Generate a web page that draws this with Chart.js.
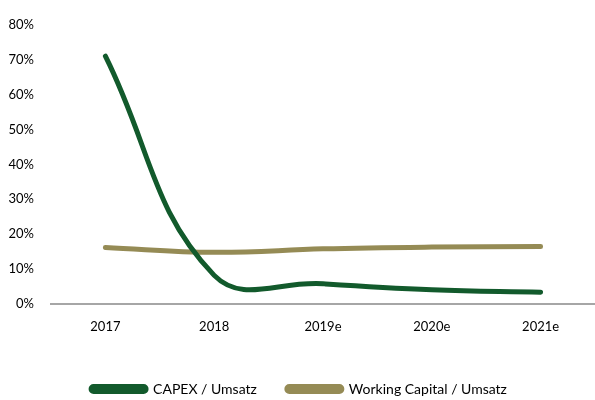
<!DOCTYPE html>
<html>
<head>
<meta charset="utf-8">
<script src="https://cdn.jsdelivr.net/npm/chart.js@4.4.0/dist/chart.umd.min.js"></script>
<style>
  html, body { margin: 0; padding: 0; background: #fff; }
  #wrap { width: 595px; height: 400px; position: relative; }
</style>
</head>
<body>
<div id="wrap"><canvas id="myChart"></canvas></div>
<script>
// data
var years = ['2017', '2018', '2019e', '2020e', '2021e'];
var capex = [71.0, 8.2, 5.8, 4.1, 3.4];
var workingCapital = [16.2, 14.8, 15.8, 16.3, 16.5];
var yTicks = [0, 10, 20, 30, 40, 50, 60, 70, 80];

var green = '#125a2c';
var olive = '#958b55';

var data = {
  labels: years,
  datasets: [{
    label: 'CAPEX / Umsatz',
    data: capex,
    borderColor: green,
    backgroundColor: green,
    borderWidth: 5,
    borderCapStyle: 'round',
    tension: 0.42,
    pointRadius: 0
  }, {
    label: 'Working Capital / Umsatz',
    data: workingCapital,
    borderColor: olive,
    backgroundColor: olive,
    borderWidth: 5,
    borderCapStyle: 'round',
    tension: 0.4,
    pointRadius: 0
  }]
};

const config = {
  type: 'line',
  data: data,
  options: {
    responsive: true,
    maintainAspectRatio: false,
    animation: false,
    layout: { padding: { top: 9, right: -3, bottom: -6, left: 0 } },
    plugins: {
      tooltip: { enabled: false },
      legend: {
        display: true,
        position: 'bottom',
        labels: {
          color: '#000',
          font: { family: 'Lato', size: 14 },
          boxWidth: 55,
          boxHeight: 5,
          useBorderRadius: true,
          borderRadius: 2.5,
          padding: 30
        }
      }
    },
    scales: {
      x: {
        offset: true,
        afterFit: function(scale) { scale.height = 48; },
        grid: { display: false, drawTicks: false },
        border: { display: true, color: '#a6a6a6', width: 2 },
        ticks: { color: '#000', font: { family: 'Lato', size: 13 }, padding: 15 }
      },
      y: {
        min: 0,
        max: 80,
        afterBuildTicks: function(scale) {
          scale.ticks = yTicks.map(function(v) { return { value: v }; });
        },
        afterFit: function(scale) { scale.width = 51; },
        grid: { display: false, drawTicks: false },
        border: { display: false },
        ticks: {
          color: '#000',
          font: { family: 'Lato', size: 13 },
          padding: 17,
          callback: function(v) { return v + '%'; }
        }
      }
    }
  }
};

const myChart = new Chart(document.getElementById('myChart'), config);
</script>
</body>
</html>
